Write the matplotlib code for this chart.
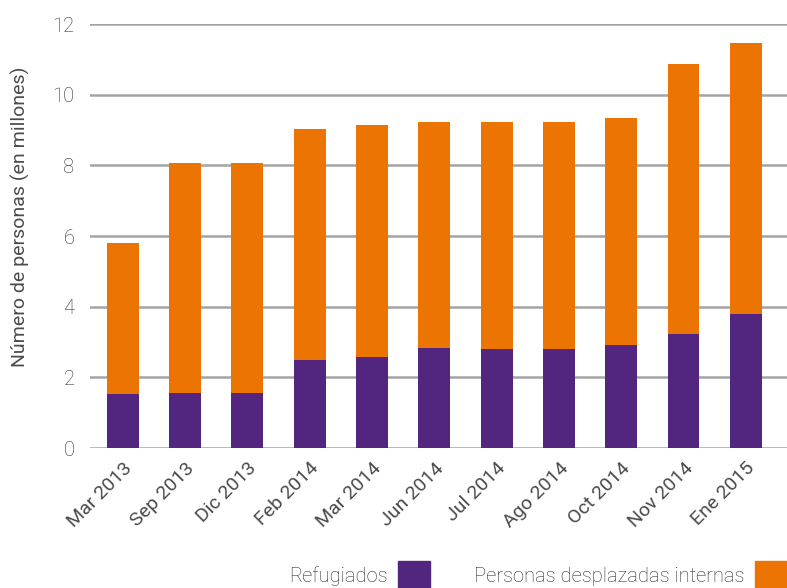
import numpy as np
import matplotlib.pyplot as plt
from matplotlib.patches import Rectangle

fechas = ["Mar 2013", "Sep 2013", "Dic 2013", "Feb 2014", "Mar 2014", "Jun 2014",
          "Jul 2014", "Ago 2014", "Oct 2014", "Nov 2014", "Ene 2015"]
refugiados = [1.53, 1.56, 1.56, 2.49, 2.58, 2.83, 2.80, 2.80, 2.92, 3.23, 3.79]
totales = [5.80, 8.07, 8.07, 9.03, 9.14, 9.23, 9.23, 9.23, 9.34, 10.87, 11.46]
desplazados = [t - r for t, r in zip(totales, refugiados)]
yticks = [0, 2, 4, 6, 8, 10, 12]

morado = "#52267f"
naranja = "#ec7403"
gris_texto = "#2e2e2e"

plt.rcParams['font.family'] = ['Roboto', 'DejaVu Sans']
plt.rcParams['font.weight'] = 'light'

fig = plt.figure(figsize=(7.87, 5.88), dpi=100)
ax = fig.add_axes([0.114, 0.238, 0.886, 0.721])

x = np.arange(len(fechas))
ax.bar(x, refugiados, width=0.51, color=morado, zorder=3)
ax.bar(x, desplazados, width=0.51, bottom=refugiados, color=naranja, zorder=3)

ax.set_ylim(0, 12)
ax.set_xlim(-0.53, 10.66)
ax.set_yticks(yticks)
ax.set_yticklabels([str(v) for v in yticks], fontsize=14.5, color=gris_texto)
ax.set_xticks(x)
# el texto girado sale muy claro en light, se usa peso normal
ax.set_xticklabels(fechas, rotation=45, ha="right", rotation_mode="anchor",
                   fontsize=14, color="#4a4a4a", fontweight="normal")
ax.tick_params(axis="both", length=0)
ax.tick_params(axis="y", pad=11)
ax.tick_params(axis="x", pad=8)
ax.grid(axis="y", color="#a4a4a4", lw=1.8, zorder=0)
ax.set_axisbelow(True)
for s in ax.spines.values():
    s.set_visible(False)

ax.set_ylabel("Número de personas (en millones)", fontsize=14, color="#4a4a4a",
              fontweight="normal")
ax.yaxis.set_label_coords(-0.086, 0.545)

# leyenda manual, abajo a la derecha
fig.text(388 / 787, 1 - 576 / 588, "Refugiados", ha="right", va="center",
         fontsize=14.5, color=gris_texto)
fig.patches.append(Rectangle((398 / 787, 0), 32 / 787, 27 / 588,
                             transform=fig.transFigure, color=morado))
fig.text(745 / 787, 1 - 576 / 588, "Personas desplazadas internas", ha="right",
         va="center", fontsize=14.5, color=gris_texto)
fig.patches.append(Rectangle((755 / 787, 0), 32 / 787, 27 / 588,
                             transform=fig.transFigure, color=naranja))

fig.savefig("out.png", dpi=100)
